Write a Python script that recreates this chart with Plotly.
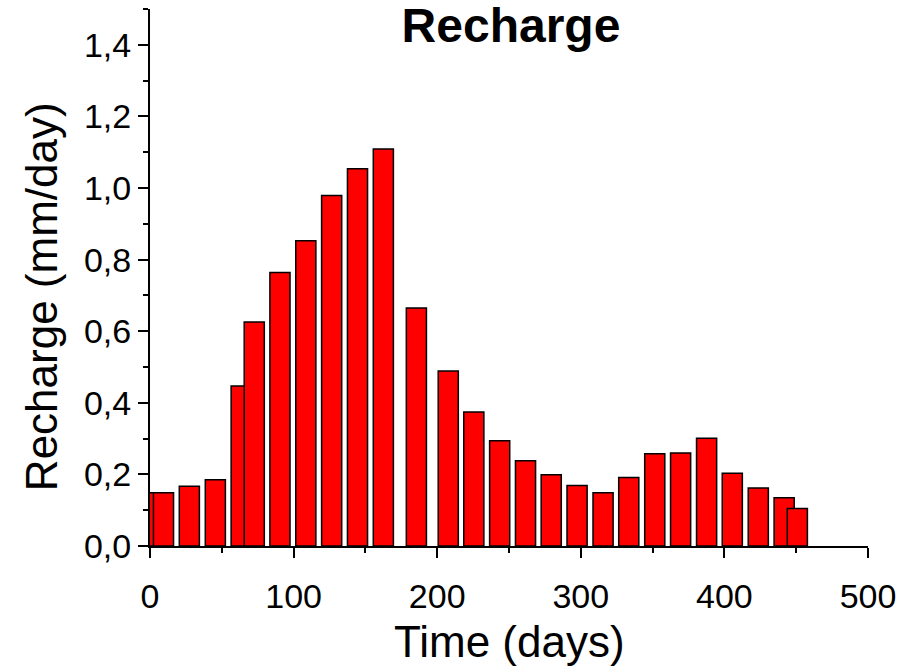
import plotly.graph_objects as go

# Recharge bars: centre day of each bar and its recharge rate (mm/day)
days = [0, 9.4, 27.4, 45.5, 63.5, 72.6, 90.5, 108.5, 126.5, 144.5, 162.5,
        185.5, 207.7, 225.5, 243.5, 261.5, 279.4, 297.4, 315.5, 333.4,
        351.5, 369.5, 387.6, 405.5, 423.6, 441.6, 450.8]
recharge = [0.149, 0.149, 0.167, 0.185, 0.447, 0.626, 0.764, 0.853, 0.979,
            1.054, 1.109, 0.665, 0.489, 0.374, 0.294, 0.238, 0.199, 0.169,
            0.149, 0.191, 0.258, 0.260, 0.301, 0.203, 0.162, 0.135, 0.105]

x_ticks = [0, 100, 200, 300, 400, 500]
y_ticks = [0.0, 0.2, 0.4, 0.6, 0.8, 1.0, 1.2, 1.4]

FONT = "Arial, Liberation Sans, sans-serif"

fig = go.Figure()

fig.add_trace(
    go.Bar(
        x=days,
        y=recharge,
        width=14,
        marker=dict(color="#ff0000", line=dict(color="#000000", width=1.5)),
        showlegend=False,
    )
)

axis_common = dict(
    showline=True,
    linecolor="black",
    linewidth=2,
    ticks="outside",
    ticklen=10,
    tickwidth=2,
    tickcolor="black",
    showgrid=False,
    zeroline=False,
    automargin=False,
    tickfont=dict(family=FONT, size=34, color="black"),
)

fig.update_layout(
    template="none",
    width=899,
    height=668,
    separators=",.",
    plot_bgcolor="white",
    paper_bgcolor="white",
    margin=dict(l=150, r=31, t=9, b=122),
    title=dict(
        text="<b>Recharge</b>",
        font=dict(family=FONT, size=48, color="black"),
        x=(511 / 899),
        xanchor="center",
        y=1 - 25 / 668,
        yanchor="middle",
    ),
    xaxis=dict(
        axis_common,
        range=[0, 500],
        tickvals=x_ticks,
        ticklabelstandoff=9,
        minor=dict(ticks="outside", ticklen=5, tickwidth=2, tickcolor="black", dtick=50),
    ),
    yaxis=dict(
        axis_common,
        range=[0, 1.5],
        tickvals=y_ticks,
        tickformat=".1f",
        ticklabelstandoff=0,
        minor=dict(ticks="outside", ticklen=5, tickwidth=2, tickcolor="black", dtick=0.1),
    ),
    annotations=[
        dict(
            text="Time (days)",
            xref="paper", yref="paper",
            x=0.5, y=-0.177,
            xanchor="center", yanchor="middle",
            showarrow=False,
            font=dict(family=FONT, size=44, color="black"),
        ),
        dict(
            text="Recharge (mm/day)",
            xref="paper", yref="paper",
            x=-0.150, y=0.464,
            xanchor="center", yanchor="middle",
            textangle=-90,
            showarrow=False,
            font=dict(family=FONT, size=44, color="black"),
        ),
    ],
)

# drop the browser's default body margin so the figure sits at the page corner
fig.write_html(
    "out.html",
    config={"displayModeBar": False},
    post_script="document.body.style.margin = '0';",
)
